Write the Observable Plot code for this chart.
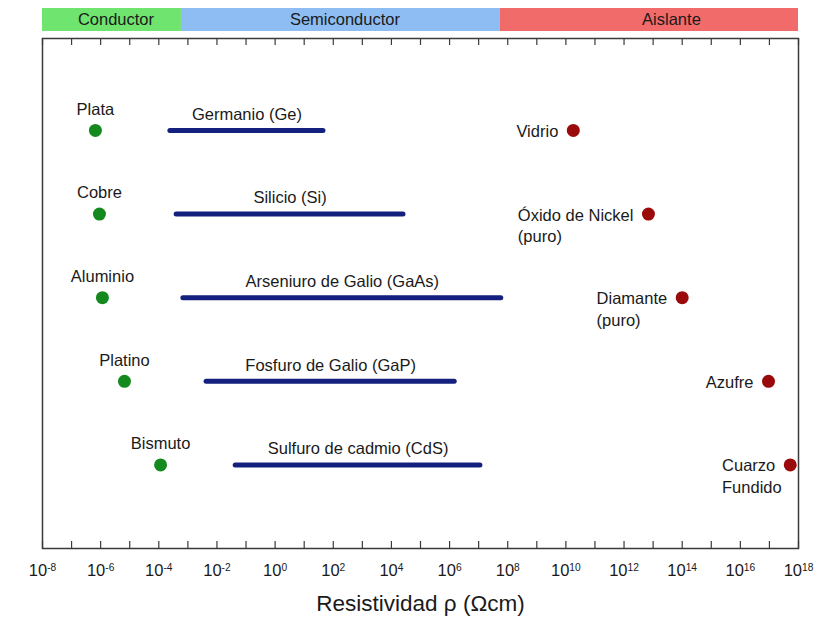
<!DOCTYPE html>
<html>
<head>
<meta charset="utf-8">
<script src="https://cdn.jsdelivr.net/npm/d3@7"></script>
<script src="https://cdn.jsdelivr.net/npm/@observablehq/plot@0.6"></script>
<style>
  html, body { margin: 0; padding: 0; background: #fff; }
  #chart { width: 818px; font-family: "Liberation Sans", Arial, sans-serif; }
  #chart svg { display: block; }
</style>
</head>
<body>
<div id="chart"></div>
<script>
// ---- data ----
const bandNames = ["Conductor", "Semiconductor", "Aislante"];
const bandLo = [1e-8, 6e-4, 5.6e7];
const bandHi = [6e-4, 5.6e7, 1e18];
const bandColors = ["#6fe46f", "#8dbdf2", "#f26b6b"];

const conductorNames = ["Plata", "Cobre", "Aluminio", "Platino", "Bismuto"];
const conductorRho = [6.6e-7, 9.1e-7, 1.15e-6, 6.6e-6, 1.15e-4];

const semiNames = ["Germanio (Ge)", "Silicio (Si)", "Arseniuro de Galio (GaAs)", "Fosfuro de Galio (GaP)", "Sulfuro de cadmio (CdS)"];
const semiLo = [2.5e-4, 4.1e-4, 7e-4, 4.4e-3, 0.044];
const semiHi = [46, 2.6e4, 6e7, 1.5e6, 1.15e7];

const insulatorNames = ["Vidrio", "Óxido de Nickel\n(puro)", "Diamante\n(puro)", "Azufre", "Cuarzo\nFundido"];
const insulatorRho = [1.8e10, 6.9e12, 1e14, 9.3e16, 5.2e17];

const rows = [1, 2, 3, 4, 5];
const tickExponents = d3.range(-8, 19, 2);
const decadeExponents = d3.range(-8, 19, 1);
const xLabel = "Resistividad ρ (Ωcm)";

// ---- tables ----
const bands = bandNames.map((n, i) => ({name: n, lo: bandLo[i], hi: bandHi[i], color: bandColors[i]}));
const conductors = conductorNames.map((n, i) => ({name: n, rho: conductorRho[i], row: rows[i]}));
const semis = semiNames.map((n, i) => ({name: n, lo: semiLo[i], hi: semiHi[i], row: rows[i]}));
const insulators = insulatorNames.map((n, i) => ({name: n, rho: insulatorRho[i], row: rows[i]}));
const decades = decadeExponents.map(e => Math.pow(10, e));
const ticks = tickExponents.map(e => Math.pow(10, e));

const W = 818, ML = 42, MR = 20;
const xScale = {type: "log", domain: [1e-8, 1e18]};
const font = '"Liberation Sans", Arial, sans-serif';
const FS = 16.5;

// ---- band strip ----
const band = Plot.plot({
  width: W, height: 37,
  marginLeft: ML, marginRight: MR, marginTop: 8, marginBottom: 6,
  style: {fontFamily: font, background: "#fff"},
  x: {...xScale, axis: null},
  y: {axis: null},
  marks: [
    Plot.rect(bands, {x1: "lo", x2: "hi", fill: "color"}),
    Plot.text(bands.filter(d => d.name !== "Aislante"), {x: d => Math.sqrt(d.lo * d.hi), text: "name", frameAnchor: "middle", fontSize: FS, fill: "#1a1a1a", dx: 4}),
    Plot.text(bands.filter(d => d.name === "Aislante"), {x: d => Math.sqrt(d.lo * d.hi), text: "name", frameAnchor: "middle", fontSize: FS, fill: "#1a1a1a", dx: 22})
  ]
});

// ---- main chart ----
const H = 580, MT = 1, MB = 69;
const frameH = H - MT - MB;
const main = Plot.plot({
  width: W, height: H,
  marginLeft: ML, marginRight: MR, marginTop: MT, marginBottom: MB,
  style: {fontFamily: font, background: "#fff"},
  x: {...xScale},
  y: {domain: [-0.1, 6], reverse: true, axis: null},
  marks: [
    Plot.frame({stroke: "#3a3a3a", strokeWidth: 1.5}),
    Plot.ruleX(decades, {x: d => d, insetTop: frameH - 7, stroke: "#3a3a3a", strokeWidth: 1.2}),
    Plot.ruleX(decades, {x: d => d, insetBottom: frameH - 7, stroke: "#3a3a3a", strokeWidth: 1.2}),
    Plot.axisX({
      ticks: ticks,
      tickFormat: d => "10^" + Math.round(Math.log10(d)),
      tickSize: 0, tickPadding: 16, fontSize: 16.5, label: null, fill: "#1a1a1a"
    }),
    Plot.text([xLabel], {text: d => d, frameAnchor: "bottom", dy: 55, fontSize: 22.5, lineAnchor: "middle", fill: "#1a1a1a"}),
    // semiconductors
    Plot.ruleY(semis, {y: "row", x1: "lo", x2: "hi", stroke: "#14207e", strokeWidth: 5, strokeLinecap: "round"}),
    Plot.text(semis, {x: d => Math.sqrt(d.lo * d.hi), y: "row", text: "name", dy: -16, fontSize: FS, fill: "#1a1a1a"}),
    // conductors
    Plot.dot(conductors, {x: "rho", y: "row", r: 6.5, fill: "#148a1e"}),
    Plot.text(conductors, {x: "rho", y: "row", text: "name", dy: -21, fontSize: FS, fill: "#1a1a1a"}),
    // insulators
    Plot.dot(insulators, {x: "rho", y: "row", r: 6.5, fill: "#9a0a0a"}),
    Plot.text(insulators, {x: "rho", y: "row", text: "name", textAnchor: "end", dx: -15, lineAnchor: "top", dy: -9, lineHeight: 1.32, fontSize: FS, fill: "#1a1a1a"})
  ]
});

const chart = document.getElementById("chart");
chart.appendChild(band);
chart.appendChild(main);

// superscript exponents on tick labels
d3.select(main).selectAll('[aria-label="x-axis tick label"] text').each(function () {
  const s = this.textContent;
  const parts = s.split("^");
  if (parts.length !== 2) return;
  const t = d3.select(this);
  t.text(parts[0]);
  t.append("tspan").attr("dy", "-0.55em").attr("font-size", "0.62em").text(parts[1]);
});

// left-align continuation lines of multiline insulator labels
d3.select(main).selectAll("text").each(function () {
  const tspans = this.querySelectorAll("tspan");
  if (tspans.length < 2) return;
  const w = tspans[0].getComputedTextLength();
  this.setAttribute("text-anchor", "start");
  tspans.forEach(ts => ts.setAttribute("x", -w));
});
</script>
</body>
</html>
